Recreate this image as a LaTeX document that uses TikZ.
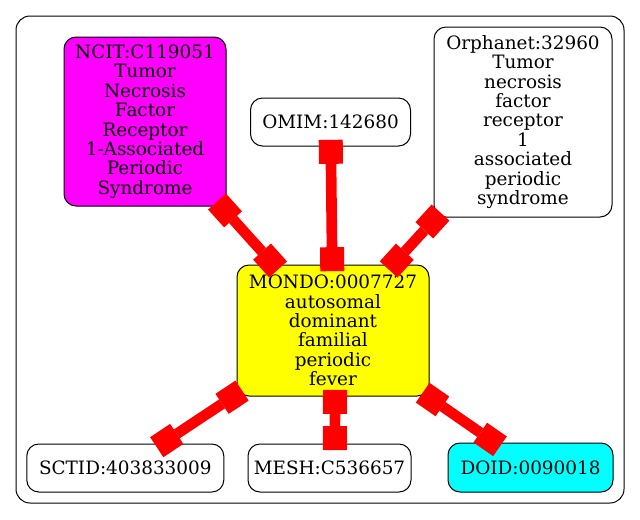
\documentclass[tikz,border=0pt]{standalone}
\usepackage{fontspec}
\setmainfont{DejaVu Serif}
\usetikzlibrary{arrows.meta}
\definecolor{gvmagenta}{RGB}{255,0,255}
\definecolor{gvcyan}{RGB}{0,255,255}
\definecolor{gvyellow}{RGB}{255,255,0}
\definecolor{gvred}{RGB}{255,0,0}
\begin{document}
\begin{tikzpicture}[x=0.75pt,y=-0.75pt,
  nodebox/.style={draw=black,line width=0.75pt,rounded corners=9pt,align=center,inner sep=0pt,
    font=\fontsize{13.8}{14.6}\selectfont},
  edgeline/.style={draw=gvred,line width=8pt,
    {Square[length=18pt,width=18pt,line width=0pt]}-{Square[length=18pt,width=18pt,line width=0pt]},
    shorten <=-5pt,shorten >=-5pt}]
\useasboundingbox (0,0) rectangle (640,519);
\draw[line width=0.75pt,rounded corners=10.5pt] (16,16) rectangle (624,503);
\node[nodebox,fill=gvmagenta,minimum width=121.5pt,minimum height=126.75pt] (ncit) at (145,121.5)
  {NCIT:C119051\\Tumor\\Necrosis\\Factor\\Receptor\\1-Associated\\Periodic\\Syndrome};
\node[nodebox,fill=white,minimum width=120pt,minimum height=36pt] (omim) at (330.5,122) {OMIM:142680};
\node[nodebox,fill=white,minimum width=133.5pt,minimum height=142.5pt] (orpha) at (523,122)
  {Orphanet:32960\\Tumor\\necrosis\\factor\\receptor\\1\\associated\\periodic\\syndrome};
\node[nodebox,fill=gvyellow,minimum width=144pt,minimum height=98.25pt] (mondo) at (333,330.5)
  {MONDO:0007727\\autosomal\\dominant\\familial\\periodic\\fever};
\node[nodebox,fill=white,minimum width=147.75pt,minimum height=36pt] (sctid) at (125.3,468) {SCTID:403833009};
\node[nodebox,fill=white,minimum width=122.25pt,minimum height=36pt] (mesh) at (329.5,468) {MESH:C536657};
\node[nodebox,fill=gvcyan,minimum width=123.75pt,minimum height=36.75pt] (doid) at (530.5,467.5) {DOID:0090018};
\draw[edgeline] (ncit) -- (mondo);
\draw[edgeline] (omim) -- (mondo);
\draw[edgeline] (orpha) -- (mondo);
\draw[edgeline] (mondo) -- (sctid);
\draw[edgeline] ([xshift=1.5pt]mondo.south) -- ([xshift=4pt]mesh.north);
\draw[edgeline] (mondo) -- (doid);
\end{tikzpicture}
\end{document}
